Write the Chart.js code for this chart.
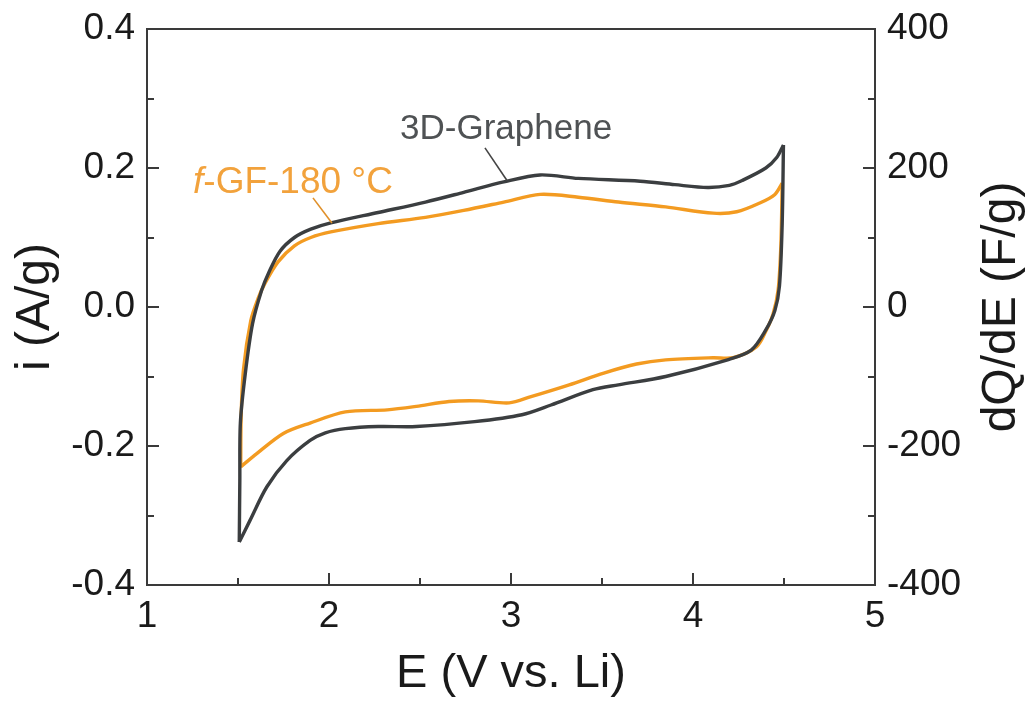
<!DOCTYPE html>
<html>
<head>
<meta charset="utf-8">
<script src="https://cdn.jsdelivr.net/npm/chart.js@4.4.1/dist/chart.umd.min.js"></script>
<style>
  html, body { margin: 0; padding: 0; background: #ffffff; }
  #wrap { width: 1029px; height: 702px; }
</style>
</head>
<body>
<div id="wrap"><canvas id="c" width="1029" height="702"></canvas></div>
<script>
// ---------- data ----------
// 3D-Graphene, anodic sweep (1.5 V -> 4.5 V)
const grapheneAnodicE = [1.507, 1.510, 1.513, 1.54, 1.58, 1.63, 1.67, 1.73, 1.81, 1.90, 2.01, 2.27, 2.53, 2.74, 2.96, 3.16, 3.37, 3.71, 3.90, 4.08, 4.20, 4.27, 4.40, 4.46, 4.497];
const grapheneAnodicI = [-0.338, -0.25, -0.167, -0.096, -0.024, 0.024, 0.050, 0.080, 0.100, 0.112, 0.121, 0.136, 0.151, 0.165, 0.180, 0.190, 0.185, 0.181, 0.176, 0.172, 0.175, 0.182, 0.200, 0.215, 0.233];
// 3D-Graphene, cathodic sweep (4.5 V -> 1.5 V)
const grapheneCathodicE = [4.497, 4.490, 4.475, 4.45, 4.40, 4.32, 4.19, 3.85, 3.59, 3.45, 3.22, 3.06, 2.80, 2.48, 2.27, 2.09, 1.98, 1.896, 1.768, 1.658, 1.566, 1.507];
const grapheneCathodicI = [0.233, 0.120, 0.030, -0.005, -0.033, -0.062, -0.076, -0.100, -0.112, -0.119, -0.141, -0.155, -0.165, -0.172, -0.172, -0.175, -0.181, -0.192, -0.221, -0.259, -0.307, -0.338];
// f-GF-180 °C, anodic sweep
const fgfAnodicE = [1.515, 1.517, 1.53, 1.57, 1.61, 1.65, 1.72, 1.81, 1.90, 2.01, 2.27, 2.53, 2.74, 2.96, 3.16, 3.37, 3.59, 3.85, 4.11, 4.24, 4.37, 4.45, 4.49];
const fgfAnodicI = [-0.230, -0.160, -0.090, -0.020, 0.012, 0.035, 0.065, 0.088, 0.100, 0.108, 0.120, 0.129, 0.139, 0.151, 0.162, 0.158, 0.151, 0.144, 0.135, 0.137, 0.150, 0.162, 0.178];
// f-GF-180 °C, cathodic sweep
const fgfCathodicE = [4.49, 4.483, 4.468, 4.44, 4.40, 4.35, 4.22, 4.11, 3.85, 3.69, 3.51, 3.32, 3.11, 2.99, 2.82, 2.66, 2.48, 2.32, 2.09, 1.896, 1.749, 1.603, 1.515];
const fgfCathodicI = [0.178, 0.090, 0.025, -0.010, -0.035, -0.057, -0.073, -0.073, -0.076, -0.082, -0.095, -0.112, -0.129, -0.138, -0.135, -0.136, -0.143, -0.148, -0.151, -0.167, -0.182, -0.211, -0.230];

// ---------- axes / ticks ----------
const xMajorTicks = [1, 2, 3, 4, 5];
const xMinorTicks = [1.5, 2.5, 3.5, 4.5];
const yMajorTicks = [-0.4, -0.2, 0.0, 0.2, 0.4];
const yMinorTicks = [-0.3, -0.1, 0.1, 0.3];
const y2MajorTicks = [-400, -200, 0, 200, 400];

const xTitle = 'E (V vs. Li)';
const yTitle = 'i (A/g)';
const y2Title = 'dQ/dE (F/g)';
const seriesNames = ['3D-Graphene', 'f-GF-180 °C'];

// annotation anchors in data units
const grapheneLabelAt = [2.973, 0.242];
const grapheneLeader = [[2.857, 0.229], [2.978, 0.182]];
const fgfLabelAt = [1.802, 0.1645];
const fgfLeader = [[1.912, 0.157], [2.016, 0.121]];

const DARK = '#3b3e40';
const ORANGE = '#f39b21';
const FONT = '"Liberation Sans", Arial, Helvetica, sans-serif';

const toXY = (xs, ys) => xs.map((x, k) => ({ x: x, y: ys[k] }));

const lineDs = (label, xs, ys, color) => ({
  label: label,
  data: toXY(xs, ys),
  showLine: true,
  borderColor: color,
  backgroundColor: color,
  borderWidth: 3.4,
  pointRadius: 0,
  tension: 0.3,
  fill: false
});

const decorations = {
  id: 'decorations',
  afterDatasetsDraw(chart) {
    const ctx = chart.ctx;
    const a = chart.chartArea;
    const sx = chart.scales.x, sy = chart.scales.y, sy2 = chart.scales.y2;
    ctx.save();
    // frame
    ctx.strokeStyle = '#3a3a3a';
    ctx.lineWidth = 2;
    ctx.strokeRect(a.left, a.top, a.right - a.left, a.bottom - a.top);
    // inward ticks
    ctx.lineWidth = 2;
    const major = 12, minor = 7;
    xMajorTicks.forEach(v => { const px = Math.round(sx.getPixelForValue(v)); ctx.beginPath(); ctx.moveTo(px, a.bottom); ctx.lineTo(px, a.bottom - major); ctx.stroke(); });
    xMinorTicks.forEach(v => { const px = Math.round(sx.getPixelForValue(v)); ctx.beginPath(); ctx.moveTo(px, a.bottom); ctx.lineTo(px, a.bottom - minor); ctx.stroke(); });
    yMajorTicks.forEach(v => { const py = Math.round(sy.getPixelForValue(v)); ctx.beginPath(); ctx.moveTo(a.left, py); ctx.lineTo(a.left + major, py); ctx.stroke(); });
    yMinorTicks.forEach(v => { const py = Math.round(sy.getPixelForValue(v)); ctx.beginPath(); ctx.moveTo(a.left, py); ctx.lineTo(a.left + minor, py); ctx.stroke(); });
    y2MajorTicks.forEach(v => { const py = Math.round(sy2.getPixelForValue(v)); ctx.beginPath(); ctx.moveTo(a.right, py); ctx.lineTo(a.right - major, py); ctx.stroke(); });
    yMinorTicks.forEach(v => { const py = Math.round(sy.getPixelForValue(v)); ctx.beginPath(); ctx.moveTo(a.right, py); ctx.lineTo(a.right - minor, py); ctx.stroke(); });

    // right axis title (reads bottom-to-top)
    ctx.fillStyle = '#1a1a1a';
    ctx.font = '48px ' + FONT;
    ctx.textAlign = 'center';
    ctx.textBaseline = 'middle';
    ctx.translate(1002, (a.top + a.bottom) / 2);
    ctx.rotate(-Math.PI / 2);
    ctx.fillText(y2Title, 0, 0);
    ctx.setTransform(1, 0, 0, 1, 0, 0);

    // annotation: 3D-Graphene
    ctx.strokeStyle = '#444';
    ctx.lineWidth = 1.6;
    ctx.beginPath();
    ctx.moveTo(sx.getPixelForValue(grapheneLeader[0][0]), sy.getPixelForValue(grapheneLeader[0][1]));
    ctx.lineTo(sx.getPixelForValue(grapheneLeader[1][0]), sy.getPixelForValue(grapheneLeader[1][1]));
    ctx.stroke();
    ctx.fillStyle = '#4f5254';
    ctx.font = '35px ' + FONT;
    ctx.textAlign = 'center';
    ctx.textBaseline = 'alphabetic';
    ctx.fillText(seriesNames[0], sx.getPixelForValue(grapheneLabelAt[0]), sy.getPixelForValue(grapheneLabelAt[1]));

    // annotation: f-GF-180 °C (italic f)
    ctx.strokeStyle = '#e0902a';
    ctx.beginPath();
    ctx.moveTo(sx.getPixelForValue(fgfLeader[0][0]), sy.getPixelForValue(fgfLeader[0][1]));
    ctx.lineTo(sx.getPixelForValue(fgfLeader[1][0]), sy.getPixelForValue(fgfLeader[1][1]));
    ctx.stroke();
    const name = seriesNames[1];
    const first = name.charAt(0), rest = name.slice(1);
    const fItal = 'italic 37px ' + FONT, fNorm = '37px ' + FONT;
    ctx.font = fItal; const w1 = ctx.measureText(first).width;
    ctx.font = fNorm; const w2 = ctx.measureText(rest).width;
    const cx = sx.getPixelForValue(fgfLabelAt[0]), by = sy.getPixelForValue(fgfLabelAt[1]);
    const x0 = cx - (w1 + w2) / 2;
    ctx.fillStyle = '#f2a23c';
    ctx.textAlign = 'left';
    ctx.font = fItal; ctx.fillText(first, x0, by);
    ctx.font = fNorm; ctx.fillText(rest, x0 + w1, by);
    ctx.restore();
  }
};

const fixVertical = w => s => { s.width = w; s.paddingTop = 0; s.paddingBottom = 0; };

new Chart(document.getElementById('c'), {
  type: 'scatter',
  data: {
    datasets: [
      lineDs(seriesNames[0], grapheneAnodicE, grapheneAnodicI, DARK),
      lineDs(seriesNames[0], grapheneCathodicE, grapheneCathodicI, DARK),
      lineDs(seriesNames[1], fgfAnodicE, fgfAnodicI, ORANGE),
      lineDs(seriesNames[1], fgfCathodicE, fgfCathodicI, ORANGE)
    ]
  },
  options: {
    responsive: false,
    animation: false,
    devicePixelRatio: 1,
    layout: { padding: { top: 29, left: 0, right: 0, bottom: 0 } },
    plugins: { legend: { display: false }, tooltip: { enabled: false }, title: { display: false } },
    scales: {
      x: {
        type: 'linear', position: 'bottom', min: 1, max: 5,
        afterFit: s => { s.height = 117; s.paddingLeft = 0; s.paddingRight = 0; },
        afterBuildTicks: s => { s.ticks = xMajorTicks.map(v => ({ value: v })); },
        grid: { display: false, drawTicks: false },
        border: { display: false },
        ticks: { padding: 10, color: '#1a1a1a', font: { family: FONT, size: 37 }, maxRotation: 0 },
        title: { display: true, text: xTitle, color: '#1a1a1a', font: { family: FONT, size: 47 }, padding: { top: 0, bottom: 0 } }
      },
      y: {
        type: 'linear', position: 'left', min: -0.4, max: 0.4,
        afterFit: fixVertical(147),
        afterBuildTicks: s => { s.ticks = yMajorTicks.map(v => ({ value: v })); },
        grid: { display: false, drawTicks: false },
        border: { display: false },
        ticks: { padding: 12, color: '#1a1a1a', font: { family: FONT, size: 37 }, callback: v => v.toFixed(1) },
        title: { display: true, text: yTitle, color: '#1a1a1a', font: { family: FONT, size: 48 }, padding: { top: 7, bottom: 0 } }
      },
      y2: {
        type: 'linear', position: 'right', min: -400, max: 400,
        afterFit: fixVertical(154),
        afterBuildTicks: s => { s.ticks = y2MajorTicks.map(v => ({ value: v })); },
        grid: { display: false, drawTicks: false },
        border: { display: false },
        ticks: { padding: 12, color: '#1a1a1a', font: { family: FONT, size: 37 } }
      }
    }
  },
  plugins: [decorations]
});
</script>
</body>
</html>
